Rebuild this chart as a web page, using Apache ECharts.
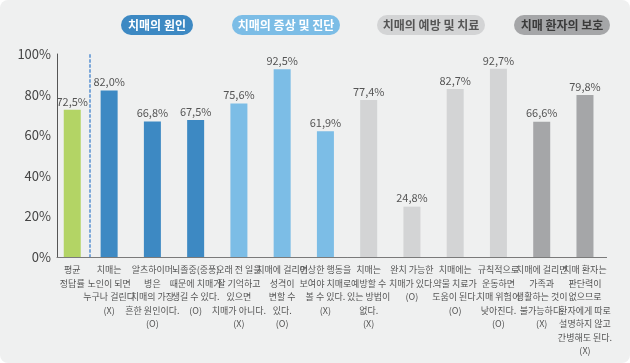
<!DOCTYPE html>
<html><head><meta charset="utf-8">
<script src="https://cdn.jsdelivr.net/npm/echarts@6/dist/echarts.min.js"></script>
<style>
html,body{margin:0;padding:0;background:#ffffff;}
#wrap{width:630px;height:363px;background:#eff0f0;border-radius:8px;overflow:hidden;}
#c{width:630px;height:363px;}
</style></head>
<body><div id="wrap"><div id="c"></div></div>
<script>
const avgCategory = ['평균\n정답률'];
const avgValue = [72.5];
const categories = [
  '치매는\n노인이 되면\n누구나 걸린다\n(X)',
  '알츠하이머\n병은\n치매의 가장\n흔한 원인이다.\n(O)',
  '뇌졸중(중풍)\n때문에 치매가\n생길 수 있다.\n(O)',
  '오래 전 일을\n잘 기억하고\n있으면\n치매가 아니다.\n(X)',
  '치매에 걸리면\n성격이\n변할 수\n있다.\n(O)',
  '이상한 행동을\n보여야 치매로\n볼 수 있다.\n(X)',
  '치매는\n예방할 수\n있는 방법이\n없다.\n(X)',
  '완치 가능한\n치매가 있다.\n(O)',
  '치매에는\n약물 치료가\n도움이 된다.\n(O)',
  '규칙적으로\n운동하면\n치매 위험이\n낮아진다.\n(O)',
  '치매에 걸리면\n가족과\n생활하는 것이\n불가능하다.\n(X)',
  '치매 환자는\n판단력이\n없으므로\n환자에게 따로\n설명하지 않고\n간병해도 된다.\n(X)'
];
const values = [82.0, 66.8, 67.5, 75.6, 92.5, 61.9, 77.4, 24.8, 82.7, 92.7, 66.6, 79.8];
const groupOf = [0, 0, 0, 1, 1, 1, 2, 2, 2, 2, 3, 3];
const groupNames = ['치매의 원인', '치매의 증상 및 진단', '치매의 예방 및 치료', '치매 환자의 보호'];
const yTicks = [0, 20, 40, 60, 80, 100];

const groupColors = ['#3d89c3', '#7cbde6', '#d3d4d5', '#a5a6a8'];
const pillText = ['#ffffff', '#ffffff', '#555555', '#3a3a3a'];
const pillBox = [[121, 72], [232, 108], [377, 108], [514, 96]];
const FONT = '"Noto Sans CJK KR", "Noto Sans", sans-serif';

const fmt = v => v.toFixed(1).replace('.', ',') + '%';
const labelCfg = {show: true, position: 'top', distance: 3, color: '#555', fontSize: 11, fontFamily: FONT, formatter: p => fmt(p.value)};
const xLabel = {interval: 0, color: '#555', fontSize: 9, lineHeight: 13.5, margin: 6, fontFamily: FONT, verticalAlign: 'top'};

const chart = echarts.init(document.getElementById('c'), null, {renderer: 'canvas'});
chart.setOption({
  animation: false,
  backgroundColor: 'transparent',
  grid: [
    {left: 57, width: 30.5, top: 54, bottom: 106},
    {left: 87.5, right: 23.4, top: 54, bottom: 106}
  ],
  xAxis: [
    {gridIndex: 0, type: 'category', data: avgCategory, axisTick: {show: false},
     axisLine: {lineStyle: {color: '#7a7a7a', width: 1}}, axisLabel: xLabel},
    {gridIndex: 1, type: 'category', data: categories, axisTick: {show: false},
     axisLine: {lineStyle: {color: '#7a7a7a', width: 1}}, axisLabel: xLabel}
  ],
  yAxis: [
    {gridIndex: 0, type: 'value', min: yTicks[0], max: yTicks[yTicks.length - 1], interval: 20,
     axisLine: {show: true, lineStyle: {color: '#555', width: 1}}, axisTick: {show: false},
     splitLine: {show: false},
     axisLabel: {color: '#444', fontSize: 13, margin: 6, fontFamily: FONT, formatter: '{value}%'}},
    {gridIndex: 1, type: 'value', min: 0, max: 100, interval: 20, offset: -2.5,
     axisLine: {show: true, lineStyle: {color: '#7ba7d9', width: 2, type: [2, 3]}},
     axisTick: {show: false}, splitLine: {show: false}, axisLabel: {show: false}}
  ],
  series: [
    {type: 'bar', xAxisIndex: 0, yAxisIndex: 0, barWidth: 17, data: avgValue,
     itemStyle: {color: '#b3d465'}, label: labelCfg},
    {type: 'bar', xAxisIndex: 1, yAxisIndex: 1, barWidth: 17,
     data: values.map((v, i) => ({value: v, itemStyle: {color: groupColors[groupOf[i]]}})),
     label: labelCfg}
  ],
  graphic: groupNames.map((name, i) => ({
    type: 'group', left: pillBox[i][0], top: 15,
    children: [
      {type: 'rect', shape: {x: 0, y: 0, width: pillBox[i][1], height: 20, r: 10},
       style: {fill: groupColors[i]}},
      {type: 'text', x: pillBox[i][1] / 2, y: 10,
       style: {text: name, fill: pillText[i], font: 'bold 12px ' + FONT, textAlign: 'center', textVerticalAlign: 'middle'}}
    ]
  }))
});
</script>
</body></html>
